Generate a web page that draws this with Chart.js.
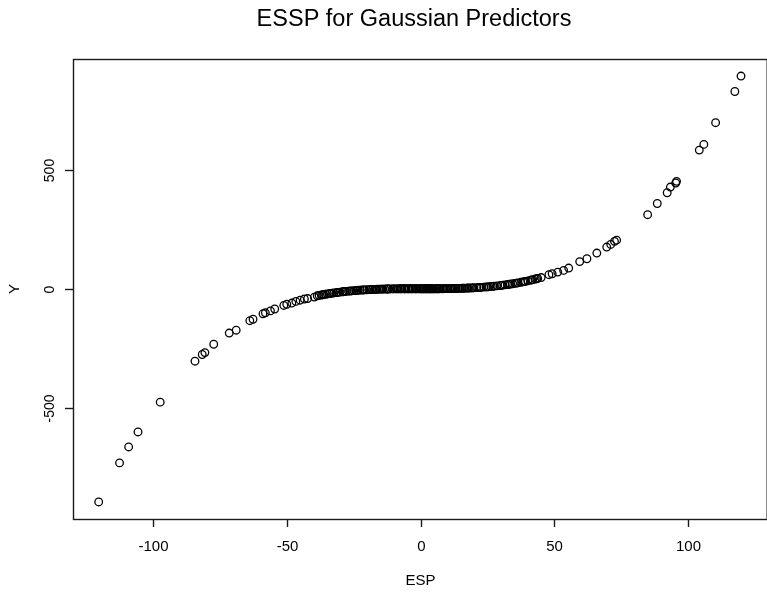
<!DOCTYPE html>
<html>
<head>
<meta charset="utf-8">
<script src="https://cdn.jsdelivr.net/npm/chart.js@4/dist/chart.umd.min.js"></script>
<style>
  html, body { margin: 0; padding: 0; background: #fff; overflow: hidden; }
  #wrap { width: 767px; height: 602px; overflow: hidden; }
</style>
</head>
<body>
<div id="wrap"><canvas id="essp" width="772" height="602"></canvas></div>
<script>
// estimated sufficient predictor (ESP) and response
const esp = [
  -120.3, -112.5, -109.1, -105.6, -97.3, -84.3, -81.6, -80.6, -77.3, -71.5,
  -68.9, -63.8, -62.6, -58.9, -58.0, -56.1, -54.5, -51.1, -50.0, -48.1,
  -46.6, -45.0, -43.4, -42.2, -39.7,
  -38.6, -37.9, -37.0, -36.2, -35.5, -34.8, -33.9, -33.1, -32.4, -31.5,
  -30.8, -30.1, -29.2, -28.4, -27.8, -26.9, -25.7, -24.9, -24.2, -23.3,
  -22.6, -21.8, -20.9, -20.1, -19.3, -18.4, -17.8, -17.0, -16.3, -15.5,
  -14.9, -14.1, -13.4, -12.6, -12.0, -11.3, -10.5, -9.8, -9.1, -8.3,
  -7.7, -7.0, -6.2, -5.6, -4.9, -4.1, -3.5, -2.8, -2.0, -1.4, -0.7,
  0.2, 0.9, 1.6, 2.3, 3.1, 3.7, 4.5, 5.2, 5.8, 6.6,
  7.3, 8.1, 8.8, 9.4, 10.2, 11.0, 11.7, 12.5, 13.2, 14.0,
  14.8, 15.6, 16.5, 17.3, 18.2, 19.0, 19.9, 21.0, 21.8, 22.7,
  23.6, 24.5, 25.6, 26.4, 27.5, 28.6, 29.8, 30.7, 31.6, 32.5,
  33.6, 34.4, 35.3, 36.4, 37.5, 38.3, 39.2, 40.1, 41.2, 42.0,
  42.9, 43.8,
  45.1, 48.0, 49.2, 51.3, 53.5, 55.4, 59.5, 62.2, 65.9, 69.6,
  71.1, 72.5, 73.3, 84.9, 88.5, 92.2, 93.4, 95.4, 95.7, 104.2,
  105.9, 110.3, 117.5, 119.8,
  // overlapping cases in the central band
  -36.6, -34.1, -31.1, -28.9, -26.3, -23.8, -21.3, -18.9, -16.7, -14.5,
  -12.3, -10.1, -8.7, -7.3, -5.9, -4.5, -3.2, -1.7, -0.3, 0.5,
  1.2, 2.0, 2.7, 3.4, 4.1, 4.9, 6.2, 7.0, 8.5, 9.8,
  11.4, 12.9, 14.4, 16.0, 17.7, 19.5, 22.2, 25.1, 27.0, 30.2,
  33.1, 35.9, 38.8, 41.6, 43.4
];
const yVals = [
  -895, -731, -664, -601, -476, -304, -276, -268, -233, -186,
  -174, -134, -128, -105, -101, -93, -85, -70, -65, -60,
  -53, -48, -43, -41, -35,
  -29.6, -28.0, -26.1, -24.4, -23.0, -21.7, -20.1, -18.7, -17.5, -16.1,
  -15.0, -14.0, -12.8, -11.8, -11.1, -10.0, -8.7, -8.0, -7.3, -6.5,
  -5.9, -5.3, -4.7, -4.2, -3.7, -3.2, -2.9, -2.5, -2.2, -1.9,
  -1.7, -1.4, -1.2, -1.0, -0.9, -0.7, -0.6, -0.5, -0.4, -0.3,
  -0.2, -0.2, -0.1, -0.1, -0.1, 0, 0, 0, 0, 0, 0,
  0, 0, 0, 0, 0, 0, 0, 0.1, 0.1, 0.1,
  0.2, 0.3, 0.4, 0.4, 0.5, 0.7, 0.8, 1.0, 1.2, 1.4,
  1.7, 2.0, 2.3, 2.7, 3.1, 3.5, 4.1, 4.8, 5.3, 6.0,
  6.8, 7.6, 8.6, 9.5, 10.7, 12.0, 13.6, 14.9, 16.3, 17.7,
  19.5, 21.0, 22.7, 24.8, 27.2, 28.9, 31.0, 33.2, 36.0, 38.2,
  40.7, 43.3,
  47, 59, 63, 70, 77, 87, 114, 126, 150, 175,
  186, 199, 204, 311, 358, 403, 427, 444, 451, 582,
  606, 697, 828, 893,
  -25.2, -20.4, -15.5, -12.4, -9.4, -6.9, -5.0, -3.5, -2.4, -1.6,
  -1.0, -0.5, -0.3, -0.2, -0.1, 0, 0, 0, 0, 0,
  0, 0, 0, 0, 0, 0, 0.1, 0.2, 0.3, 0.5,
  0.8, 1.1, 1.5, 2.1, 2.9, 3.8, 5.6, 8.1, 10.1, 14.2,
  18.7, 23.8, 30.1, 37.1, 42.1
];

const xRange = [-129.9, 129.4];
const yRange = [-966.5, 964.5];
const xTicks = [-100, -50, 0, 50, 100];
const yTicks = [-500, 0, 500];

const FONT = '"Liberation Sans", Arial, Helvetica, sans-serif';

// base-graphics style frame, ticks and labels
const frame = {
  id: 'frame',
  afterDraw(chart) {
    const ctx = chart.ctx;
    const area = chart.chartArea;
    const xs = chart.scales.x;
    const ys = chart.scales.y;
    ctx.save();
    ctx.strokeStyle = '#1a1a1a';
    ctx.lineWidth = 1.4;
    ctx.strokeRect(area.left + 0.5, area.top + 0.5, area.right - area.left, area.bottom - area.top);

    ctx.fillStyle = '#000';
    ctx.font = '15px ' + FONT;
    ctx.textAlign = 'center';
    ctx.textBaseline = 'middle';

    xTicks.forEach(v => {
      const px = Math.round(xs.getPixelForValue(v)) + 0.5;
      ctx.beginPath();
      ctx.moveTo(px, area.bottom);
      ctx.lineTo(px, area.bottom + 8);
      ctx.stroke();
      ctx.fillText(String(v), px, area.bottom + 28);
    });

    ctx.font = '14px ' + FONT;
    yTicks.forEach(v => {
      const py = Math.round(ys.getPixelForValue(v)) + 0.5;
      ctx.beginPath();
      ctx.moveTo(area.left, py);
      ctx.lineTo(area.left - 8, py);
      ctx.stroke();
      ctx.save();
      ctx.translate(area.left - 23, py);
      ctx.rotate(-Math.PI / 2);
      ctx.fillText(String(v), 0, 0);
      ctx.restore();
    });

    // axis titles
    ctx.font = '15px ' + FONT;
    ctx.fillText('ESP', xs.getPixelForValue(0), 581);
    ctx.save();
    ctx.translate(15, (area.top + area.bottom) / 2);
    ctx.rotate(-Math.PI / 2);
    ctx.fillText('Y', 0, 0);
    ctx.restore();

    // main title
    ctx.font = '23.5px ' + FONT;
    ctx.textBaseline = 'alphabetic';
    ctx.fillText('ESSP for Gaussian Predictors', 414, 26);
    ctx.restore();
  }
};

new Chart(document.getElementById('essp'), {
  type: 'scatter',
  data: {
    datasets: [{
      data: esp.map((x, i) => ({ x: x, y: yVals[i] })),
      pointStyle: 'circle',
      pointRadius: 3.8,
      borderWidth: 1.3,
      borderColor: '#000',
      backgroundColor: 'rgba(0,0,0,0)'
    }]
  },
  options: {
    responsive: false,
    animation: false,
    layout: { padding: { left: 73, top: 59, right: 1, bottom: 83 } },
    plugins: { legend: { display: false }, tooltip: { enabled: false } },
    scales: {
      x: { type: 'linear', min: xRange[0], max: xRange[1], display: false },
      y: { type: 'linear', min: yRange[0], max: yRange[1], display: false }
    }
  },
  plugins: [frame]
});
</script>
</body>
</html>
